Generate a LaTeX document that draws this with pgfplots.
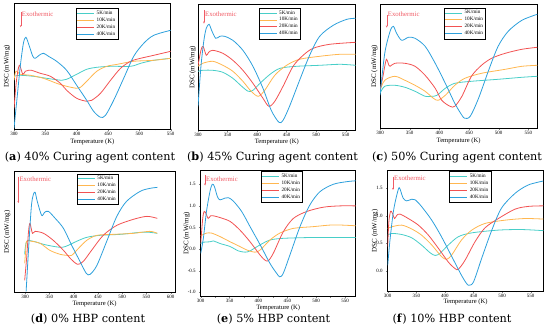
\documentclass[border=0pt]{standalone}
\usepackage{pgfplots}
\pgfplotsset{compat=1.18}
\usepackage{fontspec}
\setmainfont{Liberation Serif}
\newfontfamily\capfont{DejaVu Serif}
\usetikzlibrary{arrows.meta}
\definecolor{cteal}{RGB}{72,206,200}
\definecolor{corange}{RGB}{255,183,80}
\definecolor{cred}{RGB}{242,82,82}
\definecolor{cblue}{RGB}{45,160,220}
\definecolor{cexo}{RGB}{240,90,100}
\pgfplotsset{
 dscax/.style={
  scale only axis, axis line style={line width=0.5bp},
  tick label style={font=\fontsize{5}{6}\selectfont},
  /pgf/number format/assume math mode=true,
  xlabel style={font=\fontsize{6.6}{7}\selectfont, anchor=center},
  ylabel style={font=\fontsize{7}{8}\selectfont, anchor=center, rotate=0},
  xlabel={Temperature (K)},
  ylabel={DSC (mW/mg)},
  xtick={300,350,...,600},
  minor x tick num=1,
  tick align=outside, tick pos=left, major tick length=1.5bp, minor tick length=1bp,
  xticklabel style={inner sep=1bp},
  legend cell align=left,
  legend style={anchor=north, font=\fontsize{5.2}{5.5}\selectfont, inner sep=0.6bp, row sep=-2bp},
 },
 noy/.style={ytick=\empty},
 curve/.style={line width=0.8bp, smooth, mark=none},
}
\newcommand{\exo}[4]{%
 \draw[cexo, -{Stealth[length=2.2bp,width=1.8bp]}, line width=0.45bp] (rel axis cs:#1,#2) -- (rel axis cs:#1,#3);
 \node[cexo, font=\fontsize{6.8}{7}\selectfont, anchor=west, inner sep=0pt] at (rel axis cs:#1+0.006,#4) {Exothermic};}
\begin{document}
\begin{tikzpicture}
\useasboundingbox (0,0) rectangle (550bp,328bp);
% (a)
\begin{axis}[dscax, noy, at={(14bp,198.7bp)}, anchor=south west, width=156.7bp, height=126bp,
 xmin=300, xmax=550, ymin=0, ymax=126,
 xlabel style={at={(axis description cs:0.5,-0.1)}},
 ylabel style={at={(axis description cs:-0.045,0.5)}},
 legend style={at={(0.53,0.962)}}]
\addplot[curve, color=cteal] coordinates {(300,53)(310,54)(331,53)(352,51)(376,49)(384,50)(400,55)(416,60)(432,62)(454,63)(486,63)(502,66)(523,69)(550,71)};
\addplot[curve, color=corange] coordinates {(300,49)(303,58)(310,55)(326,54)(347,51)(368,46)(384,43)(400,41)(406,42)(416,48)(432,58)(448,63)(465,65)(491,68)(523,69)(550,71)};
\addplot[curve, color=cred] coordinates {(300,21)(304,49)(308.5,64)(314,55)(318,58)(323,59)(328,59)(342,56)(358,53)(374,46)(384,39)(400,31)(416,28)(424,29)(438,36)(454,49)(470,61)(486,68)(502,71)(523,74)(550,78)};
\addplot[curve, color=cblue] coordinates {(300,1)(305,32)(310,63)(315,86)(319,92)(324,84)(330,73)(334,71)(340,74)(347,76)(355,73)(368,68)(384,59)(400,44)(416,29)(427,18)(438,12)(446,14)(459,29)(475,51)(491,73)(507,86)(523,94)(550,99)};
\legend{5K/min,10K/min,20K/min,40K/min}
\exo{0.043}{0.93}{0.81}{0.915}
\end{axis}
% (b)
\begin{axis}[dscax, noy, at={(198bp,197.5bp)}, anchor=south west, width=157.7bp, height=126.5bp,
 xmin=300, xmax=567, ymin=2.8, ymax=129.3, xtick={300,350,...,550},
 xlabel style={at={(axis description cs:0.5,-0.09)}},
 ylabel style={at={(axis description cs:-0.034,0.5)}},
 legend style={at={(0.517,0.97)}}]
\addplot[curve, color=cteal] coordinates {(300,62)(308,63)(325,63)(342,61)(359,55)(374,47)(385,42)(393,43)(405,50)(422,59)(439,65)(467,67)(506,68)(540,69)(567,68)};
\addplot[curve, color=corange] coordinates {(300,67)(308,70)(325,72)(342,68)(359,62)(376,52)(390,42)(402,37)(413,43)(430,58)(450,68)(472,74)(506,77)(540,79)(567,79)};
\addplot[curve, color=cred] coordinates {(300,68)(305,83)(308.5,87)(314,78)(318,81)(325,83)(342,80)(359,73)(376,63)(393,50)(410,35)(420,27)(430,32)(444,47)(461,67)(478,78)(495,85)(523,89)(567,91)};
\addplot[curve, color=cblue] coordinates {(300,27)(305,67)(310,93)(314,105)(318.7,109)(323,103)(330,95)(337,97)(345,97)(359,93)(376,83)(393,67)(410,45)(424,23)(437,11)(444,13)(455,27)(472,53)(489,78)(506,97)(529,108)(552,114)(567,115)};
\legend{5K/min,10K/min,20K/min,40K/min}
\exo{0.038}{0.954}{0.845}{0.92}
\end{axis}
% (c)
\begin{axis}[dscax, noy, at={(380bp,199.7bp)}, anchor=south west, width=157.3bp, height=124.3bp,
 xmin=300, xmax=565, ymin=0, ymax=124.3, xtick={300,350,...,550},
 xlabel style={at={(axis description cs:0.5,-0.1)}},
 ylabel style={at={(axis description cs:-0.036,0.5)}},
 legend style={at={(0.54,0.97)}}]
\addplot[curve, color=cteal] coordinates {(300,35)(308,42)(325,43)(342,41)(359,37)(376,32)(387,32)(396,33)(410,40)(426,45)(454,47)(499,49)(539,51)(565,52)};
\addplot[curve, color=corange] coordinates {(300,38)(308,48)(325,52)(342,48)(359,43)(376,37)(390,30)(398,28)(410,33)(426,43)(443,50)(471,55)(511,59)(539,62)(565,63)};
\addplot[curve, color=cred] coordinates {(300,38)(305,52)(308,62)(311,69)(315,63)(317,62)(325,65)(342,65)(359,62)(376,53)(393,40)(404,28)(418,22)(426,22)(438,32)(454,52)(471,63)(488,70)(511,75)(539,79)(565,81)};
\addplot[curve, color=cblue] coordinates {(300,33)(308,75)(317,97)(322.5,102)(328,95)(336.5,88)(348,91)(359,90)(376,82)(393,65)(410,45)(426,25)(438,13)(443,10)(452,12)(466,30)(483,58)(499,82)(516,97)(539,108)(565,114)};
\legend{5K/min,10K/min,20K/min,40K/min}
\exo{0.043}{0.91}{0.81}{0.92}
\end{axis}
% (d)
\begin{axis}[dscax, noy, at={(14bp,35.7bp)}, anchor=south west, width=161bp, height=120.6bp,
 xmin=277, xmax=609, ymin=0, ymax=120.7,
 xlabel style={at={(axis description cs:0.5,-0.1)}},
 ylabel style={at={(axis description cs:-0.042,0.5)}},
 legend style={at={(0.52,0.985)}}]
\addplot[curve, color=cteal] coordinates {(299,38)(303,51)(317,51)(338,48)(358,46)(376,45)(389,47)(406,51)(427,55)(454,57)(496,58)(537,60)(557,60)(572.5,59)};
\addplot[curve, color=corange] coordinates {(299,29)(301,41)(303,51)(314,51)(331,49)(351,42)(372,38)(386,37)(396,37)(410,44)(427,52)(448,57)(482,58)(523,59)(557,61)(572.5,59)};
\addplot[curve, color=cred] coordinates {(299,12)(303,34)(307,61)(310,69)(315,59)(320.6,61)(338,59)(358,52)(379,42)(393,34)(408,28)(420,31)(437,42)(461,57)(489,67)(523,73)(551,76)(572.5,74)};
\addplot[curve, color=cblue] coordinates {(302,1)(308,51)(313,87)(317,98)(320.6,100)(325,91)(334,77)(340,80)(348,81)(362,74)(379,64)(396,47)(413,31)(426,19)(434,18)(448,27)(469,52)(489,76)(509,91)(537,101)(557,104)(572.5,105)};
\legend{5K/min,10K/min,20K/min,40K/min}
\exo{0.027}{0.96}{0.74}{0.94}
\end{axis}
% (e)
\begin{axis}[dscax, at={(200.7bp,31.3bp)}, anchor=south west, width=155bp, height=126.7bp,
 xmin=300, xmax=568.5, ymin=-1.1, ymax=1.83, xtick={300,350,...,550},
 ytick={-1,-0.5,0,0.5,1,1.5},
 yticklabel style={/pgf/number format/.cd, fixed, fixed zerofill, precision=1},
 xlabel style={at={(axis description cs:0.5,-0.085)}},
 ylabel style={at={(axis description cs:-0.09,0.5)}},
 legend style={at={(0.524,0.99)}}]
\addplot[curve, color=cteal] coordinates {(300,0.13)(304.6,0.16)(316,0.17)(322,0.19)(333.5,0.13)(351,0.06)(365,-0.04)(377,-0.07)(385.5,-0.04)(403,0.10)(420,0.21)(443,0.25)(495,0.27)(530,0.27)(568.5,0.27)};
\addplot[curve, color=corange] coordinates {(300,0.31)(310,0.37)(319,0.37)(333.5,0.29)(351,0.17)(368,0.06)(380,-0.02)(394,-0.07)(403,-0.02)(420,0.21)(437,0.37)(460.5,0.48)(495,0.52)(530,0.56)(568.5,0.54)};
\addplot[curve, color=cred] coordinates {(300,0.13)(303.5,0.71)(306,0.87)(309,0.83)(313,0.71)(317,0.77)(322,0.77)(333.5,0.73)(351,0.64)(368,0.44)(385.5,0.17)(403,-0.14)(411,-0.25)(417,-0.27)(426,-0.09)(443,0.40)(460.5,0.71)(483.6,0.87)(512.5,0.97)(541,1.0)(568.5,1.0)};
\addplot[curve, color=cblue] coordinates {(300,-0.1)(304.6,0.25)(310,0.87)(316,1.33)(320,1.5)(323.7,1.45)(329,1.21)(333.5,1.14)(342,1.18)(348,1.19)(356.6,1.11)(371,0.87)(385.5,0.52)(403,0.10)(420,-0.33)(431.6,-0.56)(437,-0.64)(443,-0.56)(454.7,-0.13)(472,0.52)(489,1.02)(506.7,1.33)(529.8,1.5)(553,1.56)(568.5,1.58)};
\legend{5K/min,10K/min,20K/min,40K/min}
\exo{0.028}{0.96}{0.877}{0.93}
\end{axis}
% (f)
\begin{axis}[dscax, at={(387.7bp,36.7bp)}, anchor=south west, width=155.6bp, height=121.3bp,
 xmin=300, xmax=572, ymin=-0.37, ymax=1.83, xtick={300,350,...,550},
 ytick={0,0.5,1,1.5},
 yticklabel style={/pgf/number format/.cd, fixed, fixed zerofill, precision=1},
 xlabel style={at={(axis description cs:0.5,-0.09)}},
 ylabel style={at={(axis description cs:-0.082,0.5)}},
 legend style={at={(0.53,0.99)}}]
\addplot[curve, color=cteal] coordinates {(300,0.65)(307,0.68)(324.5,0.66)(342,0.60)(359,0.47)(374,0.33)(383,0.28)(391.5,0.32)(406,0.47)(423.5,0.62)(447,0.69)(493.5,0.74)(534,0.75)(572,0.73)};
\addplot[curve, color=corange] coordinates {(300,0.77)(307,0.80)(324.5,0.83)(342,0.76)(359,0.65)(377,0.47)(394,0.26)(403,0.21)(412,0.29)(429,0.56)(447,0.74)(470,0.86)(505,0.92)(540,0.95)(572,0.94)};
\addplot[curve, color=cred] coordinates {(300,0.44)(302,0.89)(305,1.08)(308,1.05)(312,0.95)(316,1.01)(321.6,1.03)(336,0.95)(353.6,0.83)(371,0.65)(388.6,0.41)(406,0.16)(418,0.04)(423.5,0.03)(435,0.19)(452.7,0.53)(470,0.78)(493.5,0.95)(522.6,1.12)(546,1.17)(572,1.18)};
\addplot[curve, color=cblue] coordinates {(300,0.10)(304,0.56)(310,1.08)(316,1.38)(320,1.51)(323,1.44)(327,1.32)(333,1.27)(342,1.30)(348,1.29)(359,1.17)(377,0.92)(394,0.62)(412,0.26)(429,-0.08)(438,-0.23)(442,-0.26)(450,-0.20)(464,0.22)(482,0.74)(499,1.14)(523,1.41)(546,1.56)(572,1.63)};
\legend{5K/min,10K/min,20K/min,40K/min}
\exo{0.034}{0.945}{0.836}{0.93}
\end{axis}
% captions
\node[font=\capfont\fontsize{11.3}{13}\selectfont] at (90bp,171bp) {(\textbf{a}) 40\% Curing agent content};
\node[font=\capfont\fontsize{11.3}{13}\selectfont] at (272.5bp,171bp) {(\textbf{b}) 45\% Curing agent content};
\node[font=\capfont\fontsize{11.3}{13}\selectfont] at (457bp,171bp) {(\textbf{c}) 50\% Curing agent content};
\node[font=\capfont\fontsize{11.3}{13}\selectfont] at (88bp,9bp) {(\textbf{d}) 0\% HBP content};
\node[font=\capfont\fontsize{11.3}{13}\selectfont] at (273.5bp,9bp) {(\textbf{e}) 5\% HBP content};
\node[font=\capfont\fontsize{11.3}{13}\selectfont] at (452bp,9bp) {(\textbf{f}) 10\% HBP content};
\end{tikzpicture}
\end{document}
